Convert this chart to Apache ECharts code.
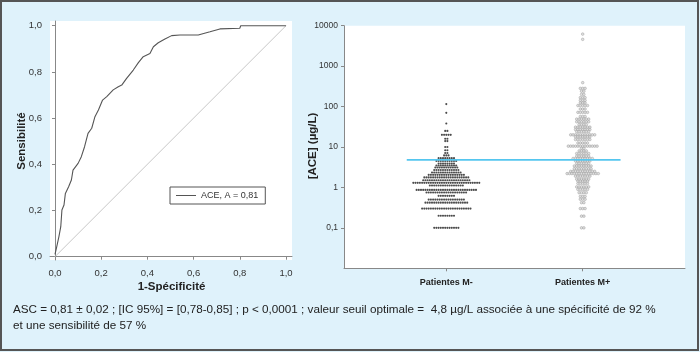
<!DOCTYPE html>
<html><head><meta charset="utf-8">
<script src="https://cdn.jsdelivr.net/npm/echarts@6/dist/echarts.min.js"></script>
<style>html,body{margin:0;padding:0;background:#dff2fb}#c{width:700px;height:352px}</style>
</head><body><div id="c"></div>
<script>
// ROC curve (1-Spécificité, Sensibilité)
const rocFpr = [0, 0.006, 0.017, 0.025, 0.030, 0.039, 0.045, 0.059, 0.071, 0.078, 0.100, 0.114, 0.128, 0.143, 0.159, 0.173, 0.188, 0.206, 0.224, 0.252, 0.274, 0.289, 0.310, 0.339, 0.361, 0.382, 0.411, 0.426, 0.447, 0.476, 0.505, 0.541, 0.620, 0.628, 0.671, 0.714, 0.800, 0.804, 1.0];
const rocTpr = [0.01, 0.036, 0.087, 0.130, 0.202, 0.224, 0.274, 0.303, 0.332, 0.375, 0.404, 0.433, 0.476, 0.534, 0.556, 0.606, 0.635, 0.678, 0.693, 0.722, 0.736, 0.743, 0.772, 0.808, 0.840, 0.866, 0.880, 0.909, 0.926, 0.942, 0.957, 0.960, 0.960, 0.967, 0.974, 0.986, 0.989, 1.0, 1.0];
const diagonal = [[0, 0], [1, 1]];
const rocName = 'ACE, A = 0,81';
const rocTicks = [0, 0.2, 0.4, 0.6, 0.8, 1.0];

// Dot plot: [ACE] (µg/L) values, one row per value with its number of patients
const groups = ['Patientes M-', 'Patientes M+'];
const mMinusValues = [115, 70, 38, 25, 20, 16, 14, 10, 8.3, 7.1, 6.2, 5.3, 4.5, 3.9, 3.5, 3.1, 2.7, 2.35, 2.05, 1.77, 1.51, 1.3, 1.12, 0.87, 0.75, 0.62, 0.5, 0.42, 0.30, 0.2, 0.1];
const mMinusCounts = [1, 1, 1, 2, 5, 2, 2, 2, 2, 2, 3, 8, 10, 8, 10, 11, 12, 14, 17, 21, 22, 31, 16, 28, 19, 8, 17, 20, 23, 8, 12];
const mPlusValues = [6200, 4600, 390, 282, 240, 200, 166, 142, 123, 106, 87, 72, 57, 49, 42, 36, 31, 27, 24, 20, 17.8, 15.3, 12.6, 10.5, 9.2, 8.0, 6.9, 5.9, 5.2, 4.5, 3.9, 3.4, 2.9, 2.5, 2.2, 1.9, 1.6, 1.43, 1.25, 1.03, 0.89, 0.74, 0.6, 0.51, 0.42, 0.30, 0.195, 0.1];
const mPlusCounts = [1, 1, 1, 3, 2, 2, 3, 3, 3, 5, 3, 5, 3, 6, 6, 4, 7, 7, 6, 11, 7, 7, 5, 13, 2, 4, 6, 6, 9, 7, 6, 8, 8, 11, 14, 7, 6, 5, 5, 6, 5, 4, 3, 3, 2, 3, 2, 2];
const cutoff = [4.8];
const logTicks = [0.1, 1, 10, 100, 1000, 10000];

const footnote = [
  'ASC = 0,81 ± 0,02 ; [IC 95%] = [0,78-0,85] ; p < 0,0001 ; valeur seuil optimale =  4,8 µg/L associée à une spécificité de 92 %',
  'et une sensibilité de 57 %'
];

// ---- layout ----
const FONT = '"Liberation Sans", Arial, sans-serif';
const groupCenters = [0.3, 0.7];
const grid2W = 341;
function swarm(values, counts, center, spacingPx) {
  const pts = [];
  values.forEach((v, k) => {
    const n = counts[k];
    for (let i = 0; i < n; i++) pts.push([center + (i - (n - 1) / 2) * spacingPx / grid2W, v]);
  });
  return pts;
}
const fmtDec = v => (Math.round(v * 10) / 10).toFixed(1).replace('.', ',');

const chart = echarts.init(document.getElementById('c'), null, {renderer: 'canvas'});
chart.setOption({
  animation: false,
  backgroundColor: '#dff2fb',
  textStyle: {fontFamily: FONT},
  grid: [
    {left: 50, top: 21, width: 242, height: 239, show: true, backgroundColor: '#fff', borderWidth: 0},
    {left: 344, top: 25.7, width: grid2W, height: 242.6, show: true, backgroundColor: '#fff', borderWidth: 0}
  ],
  legend: {
    data: [rocName], left: 170, top: 187, icon: 'rect', itemWidth: 20, itemHeight: 1,
    padding: [4, 7, 4, 6], borderColor: '#555', borderWidth: 1, backgroundColor: '#fff',
    textStyle: {fontSize: 9, color: '#333', fontFamily: FONT}, selectedMode: false
  },
  xAxis: [
    {type: 'value', gridIndex: 0, min: -0.0216, max: 1.026,
     axisLine: {lineStyle: {color: '#888'}},
     axisTick: {customValues: rocTicks, length: 3, lineStyle: {color: '#888'}},
     axisLabel: {customValues: rocTicks, formatter: fmtDec, fontSize: 9.5, color: '#333', margin: 8, fontFamily: FONT},
     splitLine: {show: false}},
    {type: 'value', gridIndex: 1, min: 0, max: 1,
     axisLine: {lineStyle: {color: '#888'}},
     axisTick: {customValues: groupCenters, length: 3, lineStyle: {color: '#888'}},
     axisLabel: {customValues: groupCenters, formatter: v => groups[groupCenters.findIndex(c => Math.abs(c - v) < 1e-6)] || '',
                 fontSize: 9, fontWeight: 'bold', color: '#222', margin: 10, fontFamily: FONT},
     splitLine: {show: false}}
  ],
  yAxis: [
    {type: 'value', gridIndex: 0, min: -0.0143, max: 1.0203,
     axisLine: {show: true, lineStyle: {color: '#888'}},
     axisTick: {show: true, customValues: rocTicks, length: 3, lineStyle: {color: '#888'}},
     axisLabel: {customValues: rocTicks, formatter: fmtDec, fontSize: 9.5, color: '#333', margin: 8, fontFamily: FONT},
     splitLine: {show: false}},
    {type: 'log', gridIndex: 1, logBase: 10, min: 0.01, max: 10000,
     axisLine: {show: true, lineStyle: {color: '#888'}},
     axisTick: {show: true, customValues: logTicks, length: 3, lineStyle: {color: '#888'}},
     axisLabel: {customValues: logTicks, formatter: v => v < 1 ? String(Number(v.toPrecision(3))).replace('.', ',') : String(Math.round(v)),
                 fontSize: 8.5, color: '#333', margin: 6, fontFamily: FONT},
     splitLine: {show: false}}
  ],
  series: [
    {type: 'line', xAxisIndex: 0, yAxisIndex: 0, data: diagonal, symbol: 'none',
     lineStyle: {color: '#c8c8c8', width: 1}, silent: true},
    {type: 'line', name: rocName, xAxisIndex: 0, yAxisIndex: 0, data: rocFpr.map((x, i) => [x, rocTpr[i]]),
     symbol: 'none', itemStyle: {color: '#555'}, lineStyle: {color: '#555', width: 1.1}},
    {type: 'scatter', xAxisIndex: 1, yAxisIndex: 1, data: swarm(mMinusValues, mMinusCounts, groupCenters[0], 2.2),
     symbol: 'circle', symbolSize: 2.1, itemStyle: {color: '#1e1e1e'}},
    {type: 'scatter', xAxisIndex: 1, yAxisIndex: 1, data: swarm(mPlusValues, mPlusCounts, groupCenters[1], 2.4),
     symbol: 'circle', symbolSize: 2.6, itemStyle: {color: '#dadada', borderColor: '#8c8c8c', borderWidth: 0.5}},
    {type: 'line', xAxisIndex: 1, yAxisIndex: 1, z: 5, data: [[0.184, cutoff[0]], [0.811, cutoff[0]]],
     symbol: 'none', lineStyle: {color: '#55c6ef', width: 1.6}}
  ],
  graphic: [
    {type: 'rect', shape: {x: 1, y: 1, width: 697, height: 349}, style: {fill: 'none', stroke: '#555', lineWidth: 2}, z: 100},
    {type: 'text', x: 22, y: 141, rotation: Math.PI / 2,
     style: {text: 'Sensibilité', font: 'bold 11.5px ' + FONT, fill: '#222', align: 'center', verticalAlign: 'middle'}},
    {type: 'text', x: 171.5, y: 286.5,
     style: {text: '1-Spécificité', font: 'bold 11.5px ' + FONT, fill: '#222', align: 'center', verticalAlign: 'middle'}},
    {type: 'text', x: 313, y: 146, rotation: Math.PI / 2,
     style: {text: '[ACE] (µg/L)', font: 'bold 11.5px ' + FONT, fill: '#222', align: 'center', verticalAlign: 'middle'}},
    {type: 'text', x: 13, y: 310,
     style: {text: footnote[0], font: '11.7px ' + FONT, fill: '#222', align: 'left', verticalAlign: 'middle'}},
    {type: 'text', x: 13, y: 326,
     style: {text: footnote[1], font: '11.7px ' + FONT, fill: '#222', align: 'left', verticalAlign: 'middle'}}
  ]
});
</script></body></html>
